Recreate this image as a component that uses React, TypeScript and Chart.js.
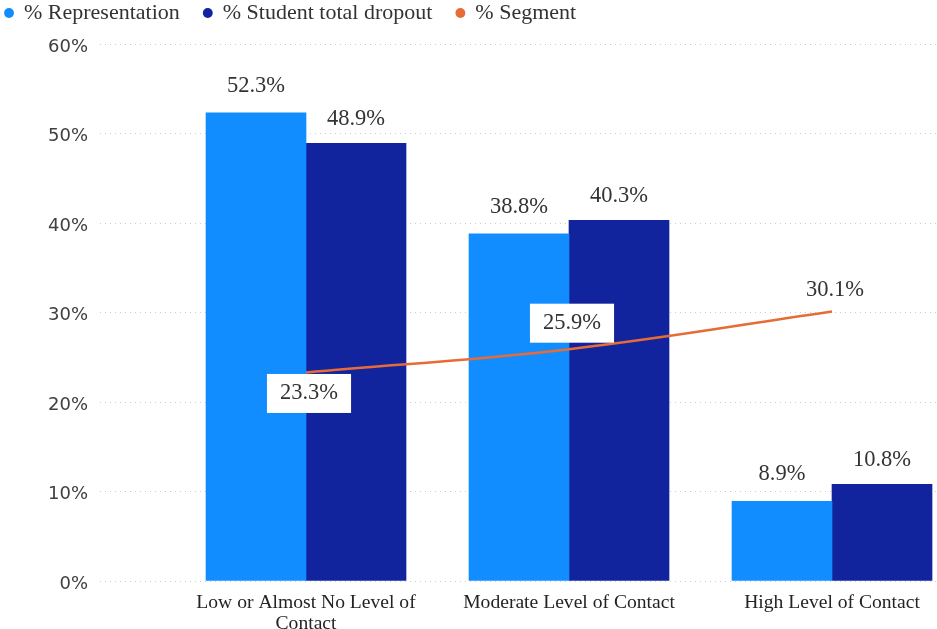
import React, { useEffect, useRef } from 'react';
import { Chart, registerables } from 'chart.js';

Chart.register(...registerables);

// Contact level groups shown along the x axis
const categories = [
  'Low or Almost No Level of Contact',
  'Moderate Level of Contact',
  'High Level of Contact',
];

// Series values (percent)
const representation = [52.3, 38.8, 8.9];
const studentDropout = [48.9, 40.3, 10.8];
const segment = [23.3, 25.9, 30.1];

// Y axis tick values (percent)
const yTicks = [0, 10, 20, 30, 40, 50, 60];

const seriesNames = ['% Representation', '% Student total dropout', '% Segment'];
const seriesColors = ['#118DFF', '#12239E', '#E66C37'];

const CANVAS_W = 956;
const CANVAS_H = 651;

const SERIF = '"Liberation Serif", "Times New Roman", serif';

// Greedy word wrap for the long category names
function wrapLabel(text: string, maxChars = 25): string[] {
  const words = text.split(' ');
  const lines: string[] = [];
  let cur = '';
  for (const w of words) {
    if (cur && (cur + ' ' + w).length > maxChars) {
      lines.push(cur);
      cur = w;
    } else {
      cur = cur ? cur + ' ' + w : w;
    }
  }
  if (cur) lines.push(cur);
  return lines;
}

// Adds some breathing room under the legend row
const legendSpacing = {
  id: 'legendSpacing',
  beforeInit(chart: any) {
    const legend = chart.legend;
    if (!legend) return;
    const fit = legend.fit;
    legend.fit = function () {
      fit.call(this);
      this.height += 10;
    };
  },
};

// Vertical offsets of the segment labels from their points (first one sits below)
const segmentLabelOffsets = [21, -26, -22];

// Percent labels above bars and boxed labels on the line points
const valueLabels = {
  id: 'valueLabels',
  afterDatasetsDraw(chart: any) {
    const ctx = chart.ctx as CanvasRenderingContext2D;
    ctx.save();
    ctx.font = '22.5px ' + SERIF;
    ctx.textAlign = 'center';
    ctx.textBaseline = 'middle';
    chart.data.datasets.forEach((ds: any, di: number) => {
      const meta = chart.getDatasetMeta(di);
      if (meta.hidden) return;
      meta.data.forEach((el: any, i: number) => {
        const v = ds.data[i].y as number;
        const text = v.toFixed(1) + '%';
        if (meta.type === 'bar') {
          const off = di === 0 ? 27 : 24;
          ctx.fillStyle = '#333333';
          ctx.fillText(text, el.x, el.y - off);
        } else {
          const cx = el.x + 3;
          const cy = el.y + (segmentLabelOffsets[i] ?? -24);
          const w = ctx.measureText(text).width + 26;
          const h = 39;
          ctx.fillStyle = '#ffffff';
          ctx.fillRect(cx - w / 2, cy - h / 2, w, h);
          ctx.fillStyle = '#333333';
          ctx.fillText(text, cx, cy);
        }
      });
    });
    ctx.restore();
  },
};

export default function App() {
  const canvasRef = useRef<HTMLCanvasElement | null>(null);

  useEffect(() => {
    if (!canvasRef.current) return;
    const toPoints = (arr: number[]) => arr.map((y, i) => ({ x: i, y }));

    const chart = new Chart(canvasRef.current, {
      type: 'bar',
      data: {
        datasets: [
          {
            type: 'bar',
            label: seriesNames[0],
            data: toPoints(representation),
            backgroundColor: seriesColors[0],
            borderWidth: 0,
            barThickness: 100,
            order: 1,
          },
          {
            type: 'bar',
            label: seriesNames[1],
            data: toPoints(studentDropout),
            backgroundColor: seriesColors[1],
            borderWidth: 0,
            barThickness: 100,
            order: 2,
          },
          {
            type: 'line',
            label: seriesNames[2],
            data: toPoints(segment),
            borderColor: seriesColors[2],
            backgroundColor: seriesColors[2],
            borderWidth: 2.5,
            tension: 0.4,
            pointRadius: 0,
            pointHoverRadius: 0,
            order: 0,
          },
        ] as any,
      },
      options: {
        responsive: false,
        animation: false,
        layout: { padding: 0 },
        plugins: {
          legend: {
            display: true,
            position: 'top',
            align: 'start',
            labels: {
              usePointStyle: true,
              pointStyle: 'circle',
              boxWidth: 8,
              boxHeight: 7,
              padding: 24,
              color: '#333333',
              font: { family: SERIF, size: 22 },
              sort: (a: any, b: any) => a.datasetIndex - b.datasetIndex,
              generateLabels: (c: any) =>
                (Chart.defaults.plugins.legend.labels as any)
                  .generateLabels(c)
                  .map((l: any) => ({ ...l, lineWidth: 0, pointStyle: 'circle' })),
            },
          },
          tooltip: { enabled: false },
        },
        scales: {
          x: {
            type: 'linear',
            min: -0.7833,
            max: 2.3992,
            offset: false,
            grid: { display: false, drawTicks: false },
            border: { display: false },
            afterBuildTicks: (scale: any) => {
              scale.ticks = categories.map((_, i) => ({ value: i }));
            },
            afterFit: (scale: any) => {
              scale.height = 48;
            },
            ticks: {
              autoSkip: false,
              maxRotation: 0,
              padding: 11,
              color: '#252423',
              font: { family: SERIF, size: 19.6, lineHeight: 1.07 },
              callback: (value: any) => {
                const name = categories[Math.round(Number(value))];
                return name ? wrapLabel(name) : '';
              },
            },
          },
          y: {
            type: 'linear',
            min: yTicks[0],
            max: yTicks[yTicks.length - 1],
            afterBuildTicks: (scale: any) => {
              scale.ticks = yTicks.map((v) => ({ value: v }));
            },
            afterFit: (scale: any) => {
              scale.width = 119;
            },
            grid: { color: '#cccccc', lineWidth: 1, drawTicks: false },
            border: { display: false, dash: [1, 4] },
            ticks: {
              padding: 12,
              labelOffset: 3,
              color: '#404040',
              font: { family: '"DejaVu Sans", sans-serif', size: 18 },
              callback: (value: any) => value + '%',
            },
          },
        },
      } as any,
      plugins: [legendSpacing, valueLabels],
    });

    return () => chart.destroy();
  }, []);

  return (
    <div
      style={{
        position: 'fixed',
        left: -19,
        top: -22,
        width: CANVAS_W,
        height: CANVAS_H,
        background: '#ffffff',
      }}
    >
      <canvas
        ref={canvasRef}
        width={CANVAS_W}
        height={CANVAS_H}
        style={{ width: CANVAS_W, height: CANVAS_H, display: 'block' }}
      />
    </div>
  );
}
